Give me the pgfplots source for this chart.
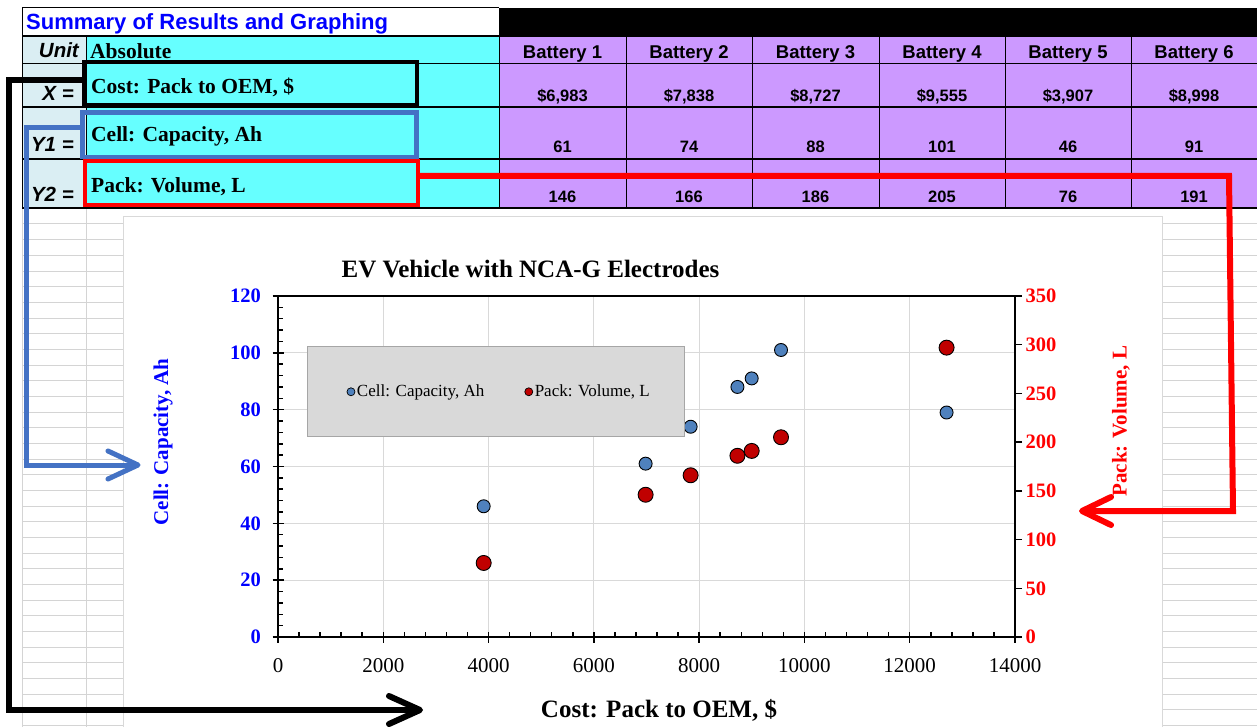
\documentclass[border=0pt]{standalone}
\usepackage{fontspec}
\setmainfont{Liberation Serif}
\newfontfamily\arial{Liberation Sans}
\usepackage{pgfplots}
\pgfplotsset{compat=1.18}
\definecolor{cellcyan}{HTML}{66FFFF}
\definecolor{cellpurple}{HTML}{CC99FF}
\definecolor{cellunit}{HTML}{DAEEF3}
\definecolor{titleblue}{HTML}{0000FF}
\definecolor{boxblue}{HTML}{4472C4}
\definecolor{mkblue}{HTML}{4F81BD}
\definecolor{mkred}{HTML}{C00000}
\definecolor{leggray}{HTML}{D9D9D9}
\definecolor{legborder}{HTML}{A6A6A6}
\definecolor{gridgray}{HTML}{D9D9D9}
\definecolor{sheetgrid}{HTML}{D4D4D4}
\definecolor{tickblue}{HTML}{0000FF}
\definecolor{tickred}{HTML}{FF0000}
\newcommand\hdr[2]{\node[anchor=base, font=\arial\bfseries\fontsize{18.5}{22}\selectfont, inner sep=0] at (#1,59) {#2};}
\newcommand\val[3]{\node[anchor=base, font=\arial\bfseries\fontsize{16.5}{20}\selectfont, inner sep=0] at (#1,#2) {#3};}
\begin{document}
\begin{tikzpicture}
\useasboundingbox (0pt,0pt) rectangle (1257pt,-727pt);
\begin{scope}[x=1pt,y=-1pt]
\fill[white] (0,0) rectangle (1257,727);
\foreach \k in {0,...,32} {\draw[sheetgrid, line width=1pt] (22,{224+15.67*\k}) -- (1257,{224+15.67*\k});}
\draw[sheetgrid, line width=1pt] (22,208) -- (22,727) (86,208) -- (86,727);
% table fills
\fill[white] (22,8) rectangle (499,36);
\fill[black] (499,8) rectangle (1257,36);
\fill[cellunit] (22,36) rectangle (86,208);
\fill[cellcyan] (86,36) rectangle (499,208);
\fill[cellpurple] (499,36) rectangle (1257,208);
% borders
\draw[line width=1pt] (22,8) -- (499,8);
\draw[line width=2pt] (22,36) -- (1257,36);
\draw[line width=1pt] (22,64) -- (1257,64);
\draw[line width=1.5pt] (22,107) -- (1257,107);
\draw[line width=1.8pt] (22,159) -- (1257,159);
\draw[line width=2pt] (22,208) -- (1257,208);
\draw[line width=1pt] (22,8) -- (22,208);
\draw[line width=1pt] (86,36) -- (86,208);
\draw[line width=1pt] (499,8) -- (499,208);
\foreach \xx in {626,752,879,1005,1131} {\draw[line width=1pt] (\xx,36) -- (\xx,208);}
% table text
\node[anchor=base west, font=\arial\bfseries\fontsize{22}{26}\selectfont, text=titleblue, inner sep=0] at (26,30) {Summary of Results and Graphing};
\node[anchor=base east, font=\arial\bfseries\itshape\fontsize{20.5}{24}\selectfont, inner sep=0] at (79,58) {Unit};
\node[anchor=base east, font=\arial\bfseries\itshape\fontsize{20.5}{24}\selectfont, inner sep=0] at (74,101) {X =};
\node[anchor=base east, font=\arial\bfseries\itshape\fontsize{20.5}{24}\selectfont, inner sep=0] at (74,152) {Y1 =};
\node[anchor=base east, font=\arial\bfseries\itshape\fontsize{20.5}{24}\selectfont, inner sep=0] at (74,202) {Y2 =};
\node[anchor=base west, font=\bfseries\fontsize{21.5}{25}\selectfont, inner sep=0] at (90,59) {Absolute};
\node[anchor=base west, font=\bfseries\fontsize{21.5}{25}\selectfont, inner sep=0] at (91,94) {Cost: Pack to OEM, \$};
\node[anchor=base west, font=\bfseries\fontsize{21.5}{25}\selectfont, inner sep=0] at (91,142) {Cell: Capacity, Ah};
\node[anchor=base west, font=\bfseries\fontsize{21.5}{25}\selectfont, inner sep=0] at (91,193) {Pack: Volume, L};
\hdr{562.5}{Battery 1}\hdr{689}{Battery 2}\hdr{815.5}{Battery 3}\hdr{942}{Battery 4}\hdr{1068}{Battery 5}\hdr{1194}{Battery 6}
\val{562.5}{102}{\$6,983}\val{689}{102}{\$7,838}\val{815.5}{102}{\$8,727}\val{942}{102}{\$9,555}\val{1068}{102}{\$3,907}\val{1194}{102}{\$8,998}
\val{562.5}{153}{61}\val{689}{153}{74}\val{815.5}{153}{88}\val{942}{153}{101}\val{1068}{153}{46}\val{1194}{153}{91}
\val{562.5}{203}{146}\val{689}{203}{166}\val{815.5}{203}{186}\val{942}{203}{205}\val{1068}{203}{76}\val{1194}{203}{191}
% chart area
\fill[white] (123,217) rectangle (1162,740);
\draw[gridgray, line width=1pt] (123,217) rectangle (1162,740);
\end{scope}

\begin{axis}[
  at={(278pt,-637pt)}, anchor=south west,
  scale only axis, width=737pt, height=341pt,
  xmin=0, xmax=14000, ymin=0, ymax=120,
  xtick={0,2000,...,14000}, ytick={0,20,...,120},
  scaled x ticks=false, scaled y ticks=false,
  minor x tick num=4, minor y tick num=4,
  xtick pos=left, ytick pos=left,
  tick align=center, major tick length=11pt, minor tick length=5pt,
  every minor x tick/.append style={yshift=2.5pt},
  every minor y tick/.append style={xshift=2.5pt},
  axis line style={line width=2.2pt},
  tick style={line width=1.5pt, black},
  grid=major, major grid style={gridgray, line width=1pt},
  /pgf/number format/assume math mode=true,
  /pgf/number format/1000 sep={},
  yticklabel style={font=\bfseries\fontsize{20.5}{24}\selectfont, text=tickblue, xshift=-8pt},
  xticklabel style={font=\fontsize{21}{25}\selectfont, text=black, yshift=-12pt},
  title={EV Vehicle with NCA-G Electrodes},
  every axis title/.style={at={(axis description cs:0.3426,1.079)}, anchor=center, font=\bfseries\fontsize{25}{30}\selectfont},
  xlabel={Cost: Pack to OEM, \$},
  every axis x label/.style={at={(axis description cs:0.517,-0.2346)}, anchor=base, font=\bfseries\fontsize{25}{30}\selectfont},
  ylabel={Cell: Capacity, Ah},
  every axis y label/.style={at={(axis description cs:-0.156,0.572)}, anchor=center, rotate=90, font=\bfseries\fontsize{21}{25}\selectfont, text=tickblue},
  legend style={at={(0.0393,0.853)}, anchor=north west, fill=leggray, draw=legborder, line width=1pt,
    font=\fontsize{17}{20}\selectfont, inner xsep=33pt, inner ysep=36.5pt,
    /tikz/every even column/.append style={column sep=32pt}},
  legend columns=2,
  legend cell align=left,
  legend image code/.code={\path[draw=none,fill=none] (-10.5pt,0pt) -- (0pt,0pt); \draw[#1] plot coordinates {(0pt,0pt)};},
]
\addplot[only marks, mark=*, mark size=6.5pt, mark options={fill=mkblue, draw=black, line width=0.9pt}, forget plot]
  coordinates {(6983,61) (7838,74) (8727,88) (9555,101) (3907,46) (8998,91) (12700,79)};
\addlegendimage{only marks, mark=*, mark size=4pt, mark options={fill=mkblue, draw=black, line width=0.7pt}}
\addlegendentry{Cell: Capacity, Ah}
\addlegendimage{only marks, mark=*, mark size=4pt, mark options={fill=mkred, draw=black, line width=0.7pt}}
\addlegendentry{Pack: Volume, L}
\end{axis}

\begin{axis}[
  at={(278pt,-637pt)}, anchor=south west,
  scale only axis, width=737pt, height=341pt,
  xmin=0, xmax=14000, ymin=0, ymax=350,
  axis x line=none, axis y line*=right,
  ytick={0,50,...,350}, minor y tick num=0,
  tick align=outside, major tick length=7pt,
  axis line style={line width=2.2pt},
  tick style={line width=1.5pt, black},
  /pgf/number format/assume math mode=true,
  yticklabel style={font=\bfseries\fontsize{20.5}{24}\selectfont, text=tickred},
  ylabel={Pack: Volume, L},
  every axis y label/.style={at={(axis description cs:1.1438,0.633)}, anchor=center, rotate=90, font=\bfseries\fontsize{21}{25}\selectfont, text=tickred},
]
\addplot[only marks, mark=*, mark size=7.5pt, mark options={fill=mkred, draw=black, line width=0.9pt}]
  coordinates {(6983,146) (7838,166) (8727,186) (9555,205) (3907,76) (8998,191) (12700,297)};
\end{axis}

\begin{scope}[x=1pt,y=-1pt]
\draw[black, line width=4pt] (83.5,62.5) rectangle (416.5,105.5);
\draw[boxblue, line width=4.5pt] (82.5,112.5) rectangle (416.5,157);
\draw[red, line width=4.5pt] (85,161) rectangle (418,205);
\draw[black, line width=6pt, line join=miter] (82,80) -- (9,80) -- (9,710) -- (418,710);
\draw[black, line width=6pt, line cap=round, line join=round] (389,696) -- (420,710) -- (389,724);
\draw[boxblue, line width=5pt, line join=miter] (81,128) -- (26,128) -- (26,465) -- (136,465);
\draw[boxblue, line width=5pt, line cap=round, line join=round] (108,451) -- (138,465) -- (108,479);
\draw[red, line width=6pt, line join=miter] (420,176) -- (1229,176) -- (1233,511) -- (1084,511);
\draw[red, line width=6pt, line cap=round, line join=round] (1111,497) -- (1082,511) -- (1111,525);
\end{scope}
\end{tikzpicture}
\end{document}
